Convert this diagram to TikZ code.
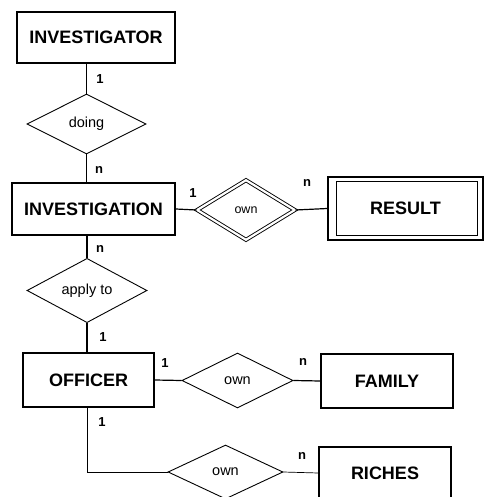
\documentclass[tikz,border=0pt]{standalone}
\usepackage{fontspec}
\setmainfont{Liberation Sans}
\usetikzlibrary{shapes.geometric}
\begin{document}
\begin{tikzpicture}[x=1pt,y=-1pt,
 entity/.style={draw, line width=1.4pt, font=\fontsize{18}{20}\selectfont\bfseries, inner sep=0pt},
 rel/.style={draw, diamond, line width=0.9pt, inner sep=0pt, font=\fontsize{14.5}{16}\selectfont},
 card/.style={font=\fontsize{13}{15}\selectfont\bfseries, inner sep=0pt},
 conn/.style={line width=1.2pt},
 thinconn/.style={line width=0.7pt}]
\clip (0,0) rectangle (485,497);
\useasboundingbox (0,0) rectangle (485,497);
% entities and relationships
\node[entity, minimum width=158pt, minimum height=51pt] (investigator) at (96,37.5) {INVESTIGATOR};
\node[rel, minimum width=119pt, minimum height=60pt] (doing) at (86.5,124) {doing};
\node[entity, minimum width=163pt, minimum height=52pt] (investigation) at (93.5,209) {INVESTIGATION};
\node[rel, double, double distance=2.2pt, minimum width=98pt, minimum height=60pt, font=\fontsize{12.5}{14}\selectfont] (own1) at (246,210) {own};
\node[entity, minimum width=155pt, minimum height=63pt] (result) at (405.5,208.5) {RESULT};
\draw[line width=1.1pt] ([shift={(9,5)}]result.north west) rectangle ([shift={(-6,-5)}]result.south east);
\node[rel, minimum width=120pt, minimum height=61pt] (apply) at (87,290.5) {apply to};
\node[entity, minimum width=131pt, minimum height=54pt] (officer) at (88.5,380) {OFFICER};
\node[rel, minimum width=111pt, minimum height=55pt] (own2) at (237.5,380.5) {own};
\node[entity, minimum width=132pt, minimum height=54pt] (family) at (387,381) {FAMILY};
\node[rel, minimum width=115pt, minimum height=54pt] (own3) at (225.5,472) {own};
\node[entity, minimum width=132pt, minimum height=52pt] (riches) at (385,473) {RICHES};
% connectors
\draw[conn] (investigator.south -| doing.north) -- (doing.north);
\draw[conn] (doing.south) -- (doing.south |- investigation.north);
\draw[conn] (investigation.east) -- (own1.west);
\draw[conn] (own1.east) -- (result.west);
\draw[conn] (investigation.south -| apply.north) -- (apply.north);
\draw[conn] (apply.south) -- (apply.south |- officer.north);
\draw[conn] (officer.east) -- (own2.west);
\draw[conn] (own2.east) -- (family.west);
\draw[thinconn] (officer.south -| apply.south) |- (own3.west);
\draw[thinconn] (own3.east) -- (riches.west);
% cardinalities
\node[card] (c1) at (100,79) {1};
\node[card] (c2) at (99,170) {n};
\node[card] (c3) at (193,193) {1};
\node[card] (c4) at (307,183) {n};
\node[card] (c5) at (100,249) {n};
\node[card] (c6) at (103,337) {1};
\node[card] (c7) at (165,363) {1};
\node[card] (c8) at (303,362) {n};
\node[card] (c9) at (102,422) {1};
\node[card] (c10) at (302,456) {n};
\end{tikzpicture}
\end{document}
